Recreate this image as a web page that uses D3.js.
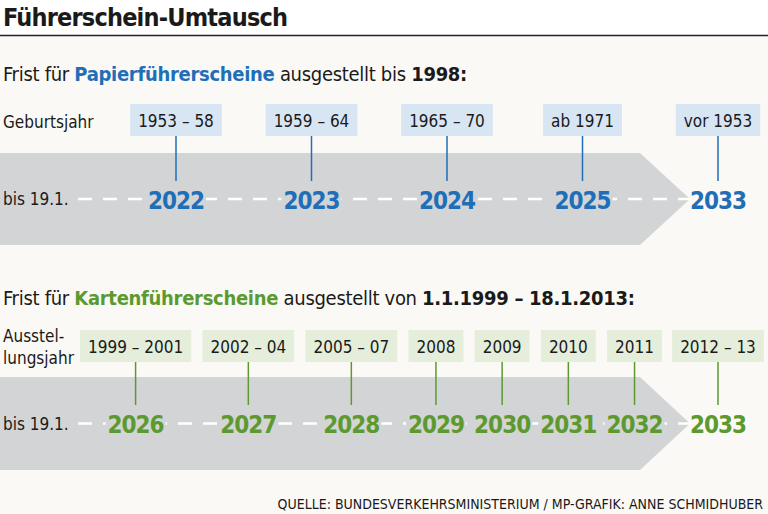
<!DOCTYPE html>
<html><head><meta charset="utf-8">
<script src="https://cdn.jsdelivr.net/npm/d3@7"></script>
<style>body{margin:0;background:#fbf9f5}text{font-family:"Liberation Sans Narrow","DejaVu Sans Condensed","Open Sans",sans-serif}</style>
</head><body><div id="chart"></div>
<script>
// Papierführerscheine
const paperBirth = ['1953 – 58', '1959 – 64', '1965 – 70', 'ab 1971', 'vor 1953'];
const paperDeadline = [2022, 2023, 2024, 2025, 2033];
// Kartenführerscheine
const cardIssued = ['1999 – 2001', '2002 – 04', '2005 – 07', '2008', '2009', '2010', '2011', '2012 – 13'];
const cardDeadline = [2026, 2027, 2028, 2029, 2030, 2031, 2032, 2033];

const blue = '#1f6fb8', green = '#5c9a30', grey = '#d3d4d6';
const W = 768, H = 514;
const svg = d3.select('#chart').append('svg').attr('width', W).attr('height', H);
svg.append('rect').attr('width', W).attr('height', H).attr('fill', '#fbf9f5');
svg.append('rect').attr('width', W).attr('height', 35).attr('fill', '#fff');
svg.append('line').attr('x1', 0).attr('x2', W).attr('y1', 35.5).attr('y2', 35.5).attr('stroke', '#222').attr('stroke-width', 1.5);
svg.append('text').attr('x', 3).attr('y', 26).attr('font-size', 25).attr('font-weight', 'bold').attr('letter-spacing', -0.8).attr('fill', '#1a1a1a').text('Führerschein-Umtausch');

function heading(y, parts) {
	const t = svg.append('text').attr('x', 3).attr('y', y).attr('font-size', 20).attr('letter-spacing', -0.3).attr('fill', '#1a1a1a');
	parts.forEach(p => t.append('tspan').attr('fill', p[1] || '#1a1a1a').attr('font-weight', p[2] ? 'bold' : null).text(p[0]));
}
heading(81, [['Frist für '], ['Papierführerscheine', blue, 1], [' ausgestellt bis '], ['1998:', null, 1]]);
heading(305, [['Frist für '], ['Kartenführerscheine', green, 1], [' ausgestellt von '], ['1.1.1999 – 18.1.2013:', null, 1]]);

function band(y0, y1) {
	const mid = (y0 + y1) / 2;
	svg.append('path').attr('fill', grey)
		.attr('d', `M0,${y0}H640L690,${mid}L640,${y1}H0Z`);
	svg.append('line').attr('x1', 78).attr('x2', 690).attr('y1', mid).attr('y2', mid)
		.attr('stroke', '#fff').attr('stroke-width', 2.5).attr('stroke-dasharray', '14,11');
	svg.append('text').attr('x', 3).attr('y', mid + 6).attr('font-size', 17).attr('fill', '#1a1a1a').text('bis 19.1.');
}

function row(labels, years, xs, boxTop, mid, col, boxCol) {
	const g = svg.selectAll(null).data(labels).enter().append('g');
	g.append('line').attr('x1', (d, i) => xs[i]).attr('x2', (d, i) => xs[i])
		.attr('y1', boxTop + 32).attr('y2', mid - 18).attr('stroke', col).attr('stroke-width', 1.5);
	// knock out dashes behind the year numbers
	g.append('rect').attr('x', (d, i) => xs[i] - 30).attr('width', 60).attr('y', mid - 4).attr('height', 8).attr('fill', (d, i) => xs[i] > 660 ? 'none' : grey);
	g.append('text').attr('x', (d, i) => xs[i]).attr('y', mid + 10).attr('text-anchor', 'middle')
		.attr('font-size', 24).attr('letter-spacing', -1).attr('font-weight', 'bold').attr('fill', col).text((d, i) => years[i]);
	g.append('text').attr('class', 'lab').attr('x', (d, i) => xs[i]).attr('y', boxTop + 23).attr('text-anchor', 'middle')
		.attr('font-size', 17).attr('fill', '#1a1a1a').text(d => d);
	g.each(function (d, i) {
		const w = d3.select(this).select('.lab').node().getComputedTextLength() + 16;
		d3.select(this).insert('rect', '.lab').attr('x', xs[i] - w / 2).attr('y', boxTop).attr('width', w).attr('height', 32).attr('fill', boxCol);
	});
}

// top row: evenly spaced
band(153, 245);
svg.append('text').attr('x', 3).attr('y', 128).attr('font-size', 17).attr('fill', '#1a1a1a').text('Geburtsjahr');
const xTop = d3.scalePoint().domain(d3.range(paperBirth.length)).range([176, 718]);
row(paperBirth, paperDeadline, paperBirth.map((d, i) => xTop(i)), 104, 199, blue, '#d8e6f4');

// bottom row: boxes packed by label width, last one after the arrow
band(377, 470);
svg.append('text').attr('x', 3).attr('y', 342).attr('font-size', 17).attr('fill', '#1a1a1a').text('Ausstel-');
svg.append('text').attr('x', 3).attr('y', 364).attr('font-size', 17).attr('fill', '#1a1a1a').text('lungsjahr');
const probe = svg.append('text').attr('font-size', 17);
const widths = cardIssued.map(d => probe.text(d).node().getComputedTextLength() + 16);
probe.remove();
const inner = widths.slice(0, -1);
const gap = (662 - 80 - d3.sum(inner)) / (inner.length - 1);
let cx = 80;
const xBot = inner.map(w => { const c = cx + w / 2; cx += w + gap; return c; });
xBot.push(718);
row(cardIssued, cardDeadline, xBot, 330, 423, green, '#e4eedb');

svg.append('text').attr('x', 763).attr('y', 509).attr('text-anchor', 'end').attr('font-size', 14)
	.attr('fill', '#1a1a1a').text('QUELLE: BUNDESVERKEHRSMINISTERIUM / MP-GRAFIK: ANNE SCHMIDHUBER');
</script></body></html>
